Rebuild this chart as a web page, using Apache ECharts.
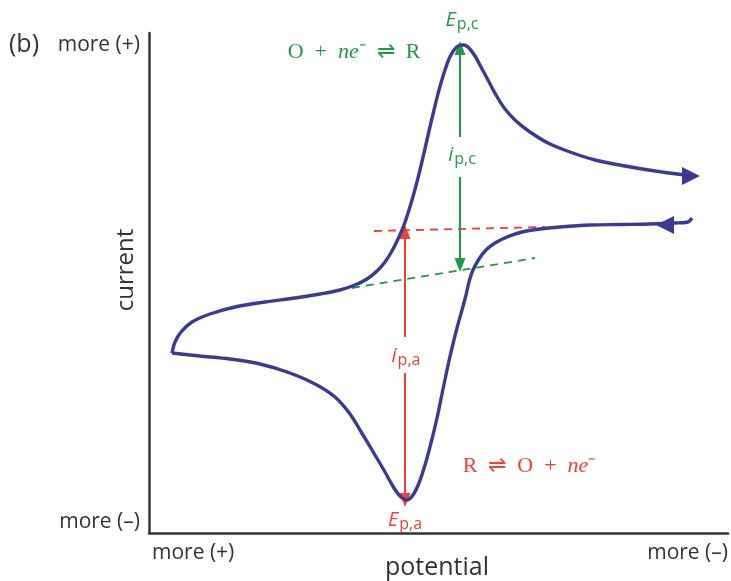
<!DOCTYPE html>
<html><head><meta charset="utf-8">
<script src="https://cdn.jsdelivr.net/npm/echarts@6/dist/echarts.min.js"></script>
<style>html,body{margin:0;padding:0;background:#fff}#c{width:731px;height:581px}</style>
</head><body><div id="c"></div>
<script>
// Units: potential 0..579 (left→right), current 0..500 (bottom→top)
const lowerBranch = [[543,315],[539,311],[526,310],[501,309],[471,308.5],[441,308],[411,306],[391,304],[373,301],[358,296],[346,290],[337,283],[330,274],[324,263],[320,251],[317,238],[313,223],[308,205],[303,185],[298,163],[293,139],[288,115],[282,90],[276,68],[270,50],[264,38],[258,33],[252,36],[245,45],[236,61],[226,78],[214,98],[201,119],[186,136],[166,149],[141,160],[111,169],[81,174],[51,177],[23,180]];
const upperBranch = [[23,180],[26,191],[32,201],[43,211],[61,219],[86,226],[116,231],[146,235],[171,239],[191,243],[206,248],[218,254],[228,262],[236,271],[243,282],[249,294],[255,308],[260,323],[265,340],[270,359],[275,380],[280,402],[285,423],[290,443],[295,460],[300,474],[305,483],[310,487.5],[315,488],[320,485],[326,477],[332,466],[339,453],[347,438],[356,424],[367,412],[381,401],[399,390],[421,381],[446,373],[476,367],[506,362],[536,358]];
const scanArrows = [[542,357,'right'],[516,308,'left']];
const redBaseline = [[225,302],[396,306]];
const greenBaseline = [[203,245],[386,275]];
const ipcArrow = {x:311, top:485, gapTop:396, gapBottom:356, bottom:268};
const ipaArrow = {x:256, top:301, gapTop:196, gapBottom:160, bottom:33};
const annotations = [
  {pos:[313,513], text:'{e|E}{s|p,c}', color:'green'},
  {pos:[313,378], text:'{i|i}{s|p,c}', color:'green'},
  {pos:[257,177], text:'{i|i}{s|p,a}', color:'red'},
  {pos:[256,13], text:'{e|E}{s|p,a}', color:'red'},
  {pos:[205,481], text:'{r|O\u2002+\u2002}{n|ne}{r|⁻\u2002⇌\u2002R}', color:'green'},
  {pos:[380,67], text:'{r|R\u2002⇌\u2002O\u2002+\u2002}{n|ne}{r|⁻}', color:'red'}
];
const GREEN = '#1f9a4a', RED = '#ee4035', BLUE = '#3c3a97', AX = '#333';

const chart = echarts.init(document.getElementById('c'));
function richFor(col){
  return {
    e:{fontFamily:'Open Sans',fontStyle:'italic',fontSize:20,color:col},
    i:{fontFamily:'Open Sans',fontStyle:'italic',fontSize:20,color:col},
    s:{fontFamily:'Open Sans',fontSize:16,color:col,padding:[9,0,0,1]},
    r:{fontFamily:'Liberation Serif',fontSize:22,color:col},
    n:{fontFamily:'Liberation Serif',fontStyle:'italic',fontSize:22,color:col}
  };
}
function vArrow(a, col){
  return {
    type:'line', data:[], silent:true,
    markLine:{
      silent:true, animation:false, label:{show:false},
      lineStyle:{color:col,width:2,type:'solid',opacity:1},
      symbolSize:[11,14],
      data:[
        [{coord:[a.x,a.gapTop],symbol:'none'},{coord:[a.x,a.top],symbol:'triangle'}],
        [{coord:[a.x,a.gapBottom],symbol:'none'},{coord:[a.x,a.bottom],symbol:'triangle'}]
      ]
    }
  };
}
const series = [
  {type:'line', data:lowerBranch, smooth:0.3, showSymbol:false, lineStyle:{color:BLUE,width:3.4}, z:5},
  {type:'line', data:upperBranch, smooth:0.3, showSymbol:false, lineStyle:{color:BLUE,width:3.4}, z:5},
  {type:'scatter', data:scanArrows.map(a=>({value:[a[0],a[1]], symbolRotate: a[2]==='right'? -90 : 90})),
   symbol:'triangle', symbolSize:[18,18], itemStyle:{color:BLUE,opacity:1}, z:6, clip:false},
  {type:'line', data:redBaseline, showSymbol:false, lineStyle:{color:RED,width:1.8,type:[8,6]}, z:3},
  {type:'line', data:greenBaseline, showSymbol:false, lineStyle:{color:GREEN,width:1.8,type:[8,6]}, z:3},
  vArrow(ipcArrow, GREEN),
  vArrow(ipaArrow, RED)
];
annotations.forEach(a=>{
  const col = a.color==='green'?GREEN:RED;
  series.push({type:'scatter', clip:false, symbolSize:0, data:[a.pos], z:8, itemStyle:{opacity:1},
    label:{show:true, position:'inside', opacity:1, formatter:a.text, rich:richFor(col)}});
});
const txt = (t,x,y,align,size,extra)=>Object.assign({type:'text', x, y, style:{text:t, fontFamily:'Open Sans', fontSize:size, fill:'#333', align, textAlign:align, verticalAlign:'middle', textVerticalAlign:'middle'}}, extra||{});
chart.setOption({
  animation:false,
  grid:{left:149, top:33, width:579, height:500},
  xAxis:{type:'value', min:0, max:579, axisLine:{show:true, lineStyle:{color:AX,width:2.5}}, axisTick:{show:false}, axisLabel:{show:false}, splitLine:{show:false}},
  yAxis:{type:'value', min:0, max:500, axisLine:{show:true, lineStyle:{color:AX,width:2.5}}, axisTick:{show:false}, axisLabel:{show:false}, splitLine:{show:false}},
  series,
  graphic:[
    txt('(b)',9,45,'left',25),
    txt('more (+)',140,45,'right',21),
    txt('more (–)',140,522,'right',21),
    txt('more (+)',152,553,'left',21),
    txt('more (–)',728,553,'right',21),
    txt('potential',437,568,'center',25),
    txt('current',126,270,'center',24,{rotation:Math.PI/2})
  ]
});
</script></body></html>
